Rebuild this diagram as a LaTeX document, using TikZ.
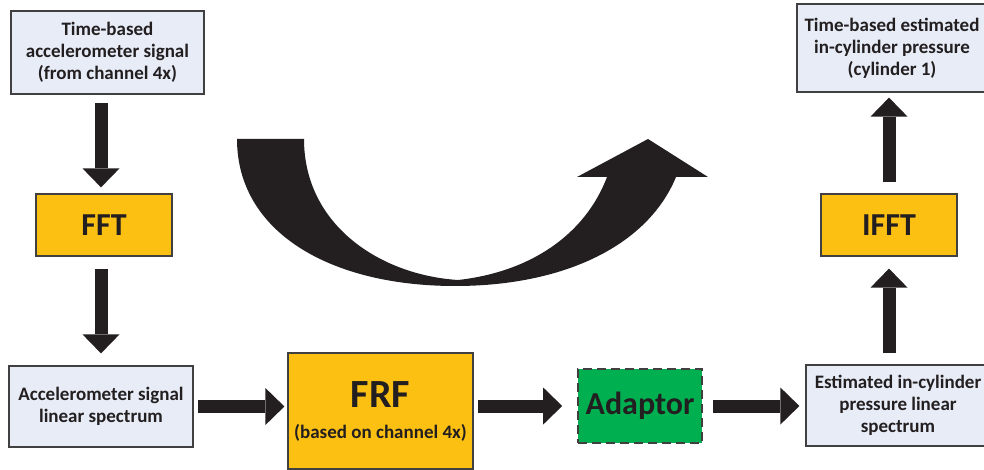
\documentclass[tikz,border=0pt]{standalone}
\usepackage{fontspec}
\setmainfont{Carlito}
\usetikzlibrary{arrows.meta}

\definecolor{ink}{HTML}{231F20}
\definecolor{boxline}{HTML}{404040}
\definecolor{paleblue}{HTML}{E7ECF7}
\definecolor{gold}{HTML}{FCC012}
\definecolor{leaf}{HTML}{00B050}

\begin{document}
\begin{tikzpicture}[x=1pt,y=-1pt,line join=miter,
  every node/.style={font=\bfseries\fontsize{19}{22}\selectfont,text=ink,
    align=center,inner sep=0pt},
  bluebox/.style={draw=boxline,line width=1.2pt,fill=paleblue},
  goldbox/.style={draw=boxline,line width=1.2pt,fill=gold},
  adaptbox/.style={draw=boxline,line width=1.6pt,fill=leaf,
    dash pattern=on 9pt off 5pt},
  bigfont/.style={font=\bfseries\fontsize{32}{38}\selectfont},
  flow/.style={draw=ink,line width=13pt,
    -{Triangle[width=37pt,length=19pt,line width=0pt]}}]
  \useasboundingbox (0,0) rectangle (984,470);

  % boxes
  \node[bluebox,minimum width=193pt,minimum height=83pt] (acctime)
    at (107.5,52.5) {Time-based\\accelerometer signal\\(from channel 4x)};
  \node[goldbox,bigfont,minimum width=136pt,minimum height=62pt] (fft)
    at (104,225) {FFT};
  \node[bluebox,minimum width=184pt,minimum height=81pt] (accspec)
    at (101,406.5) {Accelerometer signal\\linear spectrum};
  \node[goldbox,minimum width=185pt,minimum height=116pt,
    font=\bfseries\fontsize{19}{31}\selectfont] (frf)
    at (380.5,411) {{\fontsize{40}{42}\selectfont FRF}\\(based on channel 4x)};
  \node[adaptbox,bigfont,minimum width=124pt,minimum height=74pt] (adapt)
    at (640,406) {Adaptor};
  \node[bluebox,minimum width=184pt,minimum height=81pt] (pspec)
    at (898,405.5) {Estimated in-cylinder\\pressure linear\\spectrum};
  \node[goldbox,bigfont,minimum width=136pt,minimum height=62pt] (ifft)
    at (889,225) {IFFT};
  \node[bluebox,minimum width=190pt,minimum height=88pt] (ptime)
    at (892,48) {Time-based estimated\\in-cylinder pressure\\(cylinder 1)};

  % block arrows
  \draw[flow,shorten <=8pt,shorten >=6pt]
    (acctime.south -| accspec.north) -- (fft.north -| accspec.north);
  \draw[flow,shorten <=12pt,shorten >=12pt]
    (fft.south -| accspec.north) -- (accspec.north);
  \draw[flow,shorten <=4pt,shorten >=3pt]
    (accspec.east) -- (accspec.east -| frf.west);
  \draw[flow,shorten <=4pt,shorten >=15pt]
    (frf.east |- adapt.west) -- (adapt.west);
  \draw[flow,shorten <=10pt,shorten >=6pt]
    (adapt.east) -- (adapt.east -| pspec.west);
  \draw[flow,shorten <=11pt,shorten >=12pt]
    (pspec.north -| ifft.south) -- (ifft.south);
  \draw[flow,shorten <=11pt,shorten >=5pt]
    (ifft.north) -- (ifft.north |- ptime.south);

  % curved arrow
  \fill[ink] (237,139) .. controls (237,232) and (330,286) .. (455,286)
    .. controls (565,286) and (648,245) .. (676,177)
    -- (708,177) -- (648,139) -- (577,177) -- (607,177)
    .. controls (585,235) and (530,272) .. (458,280)
    .. controls (380,275) and (304,225) .. (304,139) -- cycle;
\end{tikzpicture}
\end{document}
